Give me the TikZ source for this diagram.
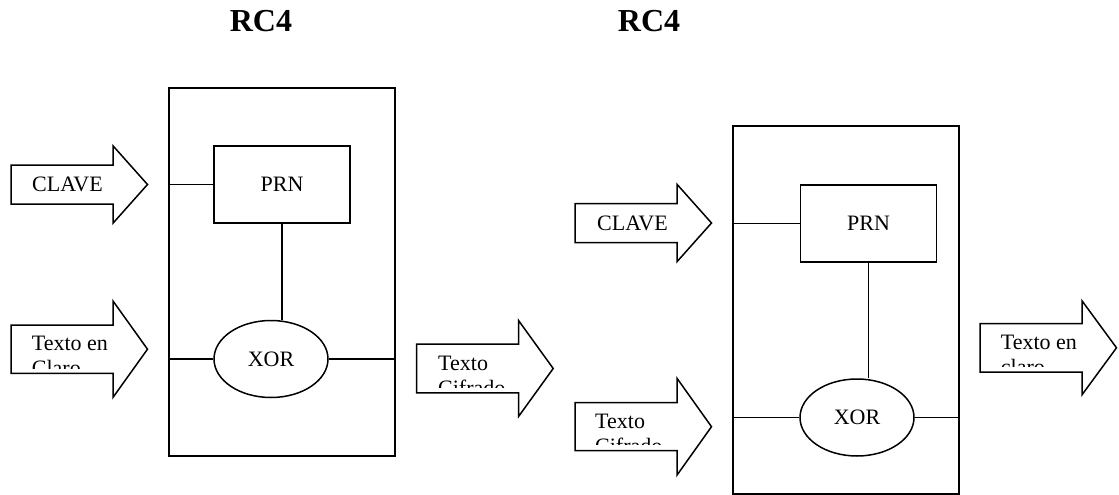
\documentclass[tikz,border=0pt]{standalone}
\usepackage{fontspec}
\setmainfont{Liberation Serif}
\usetikzlibrary{shapes,positioning}

% block arrow: left x, centre y, half body height, half head height
\newcommand{\bigarrow}[4]{%
  \draw[line width=1.5pt,line join=miter] (#1,#2-#3) -- ++(102,0) -- ++(0,#3-#4)
    -- ++(34.5,#4) -- ++(-34.5,#4) -- ++(0,#3-#4) -- ++(-102,0) -- cycle;}

\begin{document}
\begin{tikzpicture}[x=1pt,y=-1pt]
\tikzset{rcbox/.style={rectangle,draw,line width=1.5pt,minimum width=226pt,minimum height=368pt,inner sep=0pt},
  prnbox/.style={rectangle,draw,line width=1.5pt,minimum width=136pt,minimum height=77pt,inner sep=0pt,font=\fontsize{22}{25.3}\selectfont},
  xorbox/.style={ellipse,draw,line width=1.5pt,minimum width=114pt,minimum height=77pt,inner sep=0pt,font=\fontsize{22}{25.3}\selectfont},
  arrowtext/.style={inner sep=0pt,align=left,font=\fontsize{22}{25.3}\selectfont},
  title/.style={inner sep=0pt,font=\fontsize{32}{36}\selectfont\bfseries},
  wire/.style={line width=1.5pt}}
\useasboundingbox (0,0) rectangle (1119,495);

% titles
\node[title](t1) at (261,21){RC4};
\node[title](t2) at (649,21){RC4};

% first RC4 block
\node[rcbox](box1) at (282,272){};
\node[prnbox](prn1) at (282,184.5){PRN};
\node[xorbox](xor1) at (271,359){XOR};
\draw[wire](prn1.west) -- (prn1.west -| box1.west);
\draw[wire](prn1.south) -- (prn1.south |- xor1.north);
\draw[wire](xor1.west) -- (xor1.west -| box1.west);
\draw[wire](xor1.east) -- (xor1.east -| box1.east);

% second RC4 block
\node[rcbox](box2) at (846,310){};
\node[prnbox](prn2) at (868.5,223.5){PRN};
\node[xorbox](xor2) at (857,417.5){XOR};
\draw[wire](prn2.west) -- (prn2.west -| box2.west);
\draw[wire](prn2.south) -- (prn2.south |- xor2.north);
\draw[wire](xor2.west) -- (xor2.west -| box2.west);
\draw[wire](xor2.east) -- (xor2.east -| box2.east);

% arrows
\bigarrow{11}{184.5}{19.5}{38.7}
\node[arrowtext,anchor=west](clave1) at (32,184.5){CLAVE};

\bigarrow{11}{349.2}{24.2}{48.2}
\begin{scope}
\clip (11,325) rectangle (113,368);
\node[arrowtext,anchor=north west](claro1) at (31.7,336){Texto en\\Claro};
\end{scope}

\bigarrow{416.7}{368.5}{24.3}{47.8}
\begin{scope}
\clip (416.7,344) rectangle (519,387);
\node[arrowtext,anchor=north west](cifrado1) at (438,355.7){Texto\\Cifrado};
\end{scope}

\bigarrow{575}{223}{19.5}{38.7}
\node[arrowtext,anchor=west](clave2) at (597,223){CLAVE};

\bigarrow{575}{426.7}{24}{48.4}
\begin{scope}
\clip (575,402.7) rectangle (677,444.5);
\node[arrowtext,anchor=north west](cifrado2) at (595,414){Texto\\Cifrado};
\end{scope}

\bigarrow{980}{347.8}{24.2}{47}
\begin{scope}
\clip (980,323.3) rectangle (1082,366.7);
\node[arrowtext,anchor=north west](claro2) at (1000.7,335){Texto en\\claro};
\end{scope}
\end{tikzpicture}
\end{document}
